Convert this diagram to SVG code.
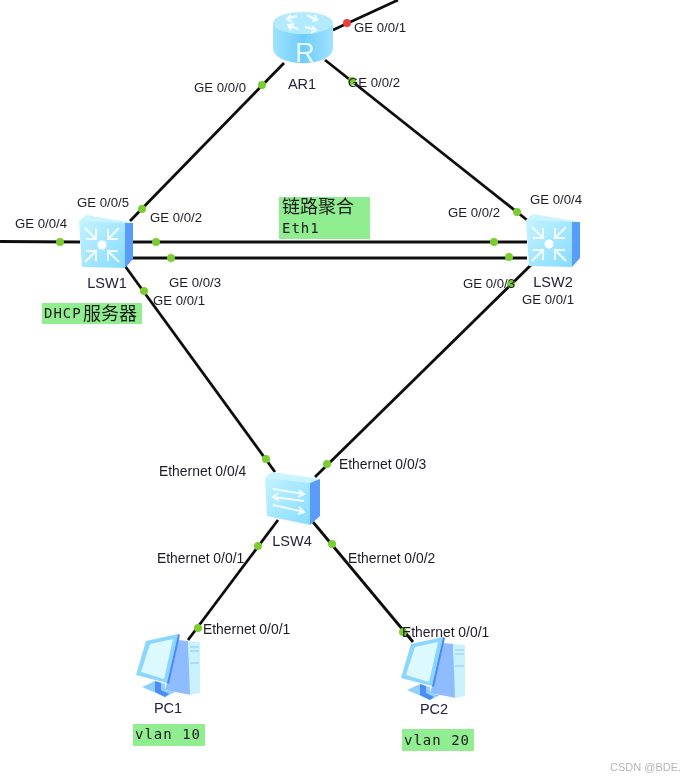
<svg xmlns="http://www.w3.org/2000/svg" width="690" height="781" viewBox="0 0 690 781">
<style>
text{font-family:"Liberation Sans","Noto Sans CJK SC",sans-serif;font-size:13.2px;fill:#1c1c28}
.e{font-size:13.9px}
.name{font-size:14.5px;fill:#25203c;text-anchor:middle}
.m{font-family:"DejaVu Sans Mono","Noto Sans CJK SC",monospace;font-size:14px;letter-spacing:1px;fill:#1a1a1a}
.c{font-family:"Noto Sans CJK SC",sans-serif;font-size:18px;fill:#1a1a1a}
.note{fill:#90ee90}
.wire{stroke:#111;stroke-width:2.8;fill:none}
.dot{fill:#7ccd32}
.arr{fill:none;stroke:#fff;stroke-width:2;opacity:.85}
</style>
<defs>
<linearGradient id="f" x1="0" y1="0" x2="1" y2="1"><stop offset="0" stop-color="#c4f2ff"/><stop offset="1" stop-color="#86dcff"/></linearGradient>
<linearGradient id="cyl" x1="0" y1="0" x2="1" y2="0"><stop offset="0" stop-color="#9fe2ff"/><stop offset=".5" stop-color="#6ecdfb"/><stop offset="1" stop-color="#9fe2ff"/></linearGradient>
<filter id="soft" x="0" y="0" width="1" height="1"><feGaussianBlur stdDeviation="0.35"/></filter>
<g id="l3">
<path d="M7 0L54 8L47 14L0 6Z" fill="#c8f3ff"/>
<path d="M0 6L46 8V53L3 52Z" fill="url(#f)"/>
<path d="M46 8L54 8V44L46 53Z" fill="#5a9cfa"/>
<circle cx="23" cy="30" r="4.500" fill="#fff"/>
<path class="arr" d="M6 13L16 23M17 14V24H7M40 13L30 23M29 14V24H39M6 47L16 37M17 46V36H7M40 47L30 37M29 46V36H39"/>
</g>
<g id="pc">
<path d="M43 6L53 7L56 61L30 56Z" fill="#8fbcff"/>
<path d="M53 7L65 8V59L55 61Z" fill="#c9f2ff"/>
<path d="M55 13H64M55 17H64M55 29H64" stroke="#8cc8f5" stroke-width="1"/>
<path d="M11 7L43 0L32 49L1 41Z" fill="#8ad6ff"/>
<path d="M15 10L38 5L29 45L6 38Z" fill="#dcf9ff"/>
<path d="M43 0L45 1L34 50L32 49Z" fill="#4d8cf5"/>
<path d="M20 47L30 50V56L40 58L30 63L7 53Z" fill="#8fd0ff"/>
<path d="M20 47L26 49V56L34 60L30 63L20 58Z" fill="#4d8cf5"/>
</g>
</defs>
<rect width="690" height="781" fill="#fff"/>
<g filter="url(#soft)">
<g id="connectors">
<path class="wire" d="M284 63L130 221"/>
<path class="wire" d="M325 60L527 220"/>
<path class="wire" d="M333 30L398 0"/>
<path class="wire" d="M0 241.500L80 242"/>
<path class="wire" d="M132 242H527"/>
<path class="wire" d="M132 258H527"/>
<path class="wire" d="M125 266L275 472"/>
<path class="wire" d="M535 261L315 477"/>
<path class="wire" d="M278 520L188 640"/>
<path class="wire" d="M313 522L413 642"/>
<g>
<circle class="dot" cx="262" cy="85" r="4"/>
<circle cx="347" cy="23" r="4" fill="#f03c3c"/>
<circle class="dot" cx="352" cy="81" r="4"/>
<circle class="dot" cx="142" cy="209" r="4"/>
<circle class="dot" cx="517" cy="212" r="4"/>
<circle class="dot" cx="60" cy="242" r="4"/>
<circle class="dot" cx="156" cy="242" r="4"/>
<circle class="dot" cx="171" cy="258" r="4"/>
<circle class="dot" cx="494" cy="242" r="4"/>
<circle class="dot" cx="509" cy="257" r="4"/>
<circle class="dot" cx="144" cy="291" r="4"/>
<circle class="dot" cx="511" cy="284" r="4"/>
<circle class="dot" cx="266" cy="459" r="4"/>
<circle class="dot" cx="327" cy="464" r="4"/>
<circle class="dot" cx="258" cy="546" r="4"/>
<circle class="dot" cx="332" cy="544" r="4"/>
<circle class="dot" cx="198" cy="628" r="4"/>
<circle class="dot" cx="403" cy="632" r="4"/>
</g>
</g>
<g id="AR1">
<path d="M273 23V48C273 57 286 63 303 63S333 57 333 48V23Z" fill="url(#cyl)"/>
<ellipse cx="303" cy="23" rx="30" ry="11" fill="#b4eaff"/>
<path class="arr" d="M287 19L297 16M291 15L287 19L292 22M305 27L316 30M312 26L316 30L311 33M298 29L288 25M291 30L288 25L294 24M307 15L317 20M312 21L317 20L315 15" stroke-width="1.600"/>
<text x="305" y="62" style="font-size:27px;fill:#e6faff;text-anchor:middle">R</text>
<text class="name" x="302" y="89">AR1</text>
</g>
<g id="LSW1"><use href="#l3" x="79" y="215"/><text class="name" x="107" y="288">LSW1</text></g>
<g id="LSW2"><use href="#l3" x="526" y="214"/><text class="name" x="553" y="287">LSW2</text></g>
<g id="LSW4">
<path d="M272 472L320 479L310 486L265 478Z" fill="#c8f3ff"/>
<path d="M265 478L310 483V525L267 516Z" fill="url(#f)"/>
<path d="M310 483L320 479V516L310 525Z" fill="#5a9cfa"/>
<path class="arr" d="M273 489L304 494M299 490L304 494L298 497M304 501L273 497M278 493L273 497L279 501M273 505L304 512M299 507L304 512L298 514"/>
<text class="name" x="292" y="546">LSW4</text>
</g>
<g id="PC1"><use href="#pc" x="135" y="634"/><text class="name" x="168" y="713">PC1</text></g>
<g id="PC2"><use href="#pc" x="400" y="637"/><text class="name" x="434" y="714">PC2</text></g>
<g id="labels">
<text x="194" y="92">GE 0/0/0</text>
<text x="354" y="32">GE 0/0/1</text>
<text x="348" y="87">GE 0/0/2</text>
<text x="77" y="207">GE 0/0/5</text>
<text x="150" y="222">GE 0/0/2</text>
<text x="15" y="228">GE 0/0/4</text>
<text x="169" y="287">GE 0/0/3</text>
<text x="153" y="305">GE 0/0/1</text>
<text x="448" y="217">GE 0/0/2</text>
<text x="530" y="204">GE 0/0/4</text>
<text x="463" y="288">GE 0/0/3</text>
<text x="522" y="304">GE 0/0/1</text>
<text class="e" x="159" y="476">Ethernet 0/0/4</text>
<text class="e" x="339" y="469">Ethernet 0/0/3</text>
<text class="e" x="157" y="563">Ethernet 0/0/1</text>
<text class="e" x="348" y="563">Ethernet 0/0/2</text>
<text class="e" x="203" y="634">Ethernet 0/0/1</text>
<text class="e" x="402" y="637">Ethernet 0/0/1</text>
</g>
<g id="notes">
<rect class="note" x="279" y="197" width="91" height="42"/>
<text class="c" x="282" y="213">链路聚合</text>
<text class="m" x="282" y="233">Eth1</text>
<rect class="note" x="42" y="303" width="100" height="21"/>
<text class="m" x="44" y="318">DHCP</text><text class="c" x="83" y="320">服务器</text>
<rect class="note" x="133" y="724" width="72" height="22"/>
<text class="m" x="135" y="739">vlan 10</text>
<rect class="note" x="402" y="729" width="72" height="22"/>
<text class="m" x="404" y="745">vlan 20</text>
</g>
<text x="610" y="771" style="font-size:11px;fill:#b5b5b5">CSDN @BDE.</text>
</g>
</svg>
